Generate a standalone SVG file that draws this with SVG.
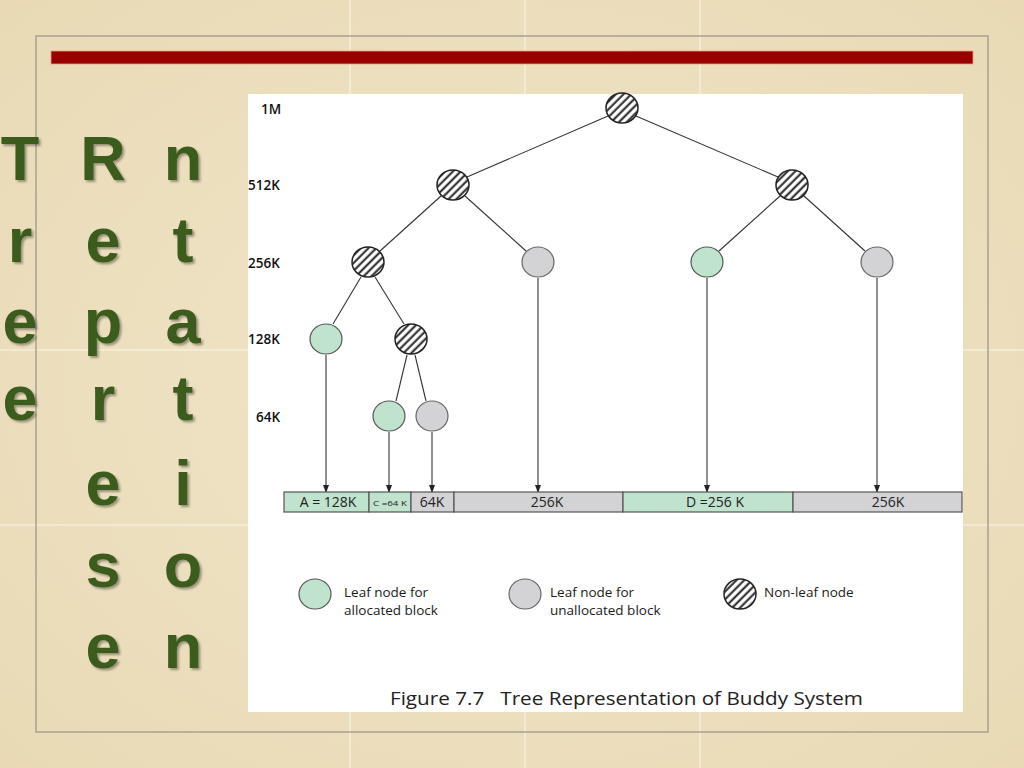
<svg xmlns="http://www.w3.org/2000/svg" width="1024" height="768" viewBox="0 0 1024 768">
<defs>
<pattern id="hatch" width="5.5" height="5.5" patternUnits="userSpaceOnUse" patternTransform="rotate(45)">
<rect width="5.5" height="5.5" fill="#ffffff"/>
<line x1="1.5" y1="0" x2="1.5" y2="5.5" stroke="#222" stroke-width="2"/>
</pattern>
<marker id="arr" markerWidth="8" markerHeight="8" refX="7" refY="4" orient="auto" markerUnits="userSpaceOnUse">
<path d="M0,1 L8,4 L0,7 Z" fill="#222"/>
</marker>
<filter id="sh" x="-20%" y="-20%" width="150%" height="150%">
<feDropShadow dx="2" dy="2" stdDeviation="1.2" flood-color="#000" flood-opacity="0.35"/>
</filter>
<radialGradient id="bg" cx="50%" cy="50%" r="70%">
<stop offset="0" stop-color="#f1e6ca"/>
<stop offset="1" stop-color="#e9dab5"/>
</radialGradient>
</defs>
<style>
.t{font-family:"Liberation Sans",Arial,sans-serif;font-weight:bold;font-size:63px;fill:#3a5c1a;text-anchor:middle}
.lab{font-family:"Open Sans","Liberation Sans",sans-serif;font-size:13.5px;fill:#1a1a1a}
.lv{font-family:"Open Sans","Liberation Sans",sans-serif;font-size:13.5px;fill:#111;font-weight:600}
.bt{font-family:"Open Sans","Liberation Sans",sans-serif;font-size:14px;fill:#222;text-anchor:middle}
.edge{stroke:#333;stroke-width:1.1;fill:none}
.hn{fill:url(#hatch);stroke:#222;stroke-width:1.5}
.gn{fill:#bfe3cc;stroke:#555;stroke-width:1.2}
.un{fill:#d3d3d6;stroke:#666;stroke-width:1.2}
.seg{stroke:#555;stroke-width:1.2}
</style>
<rect width="1024" height="768" fill="url(#bg)"/>
<g stroke="#f8f2e2" stroke-width="1.5" opacity="0.8">
<line x1="350" y1="0" x2="350" y2="768"/>
<line x1="525" y1="0" x2="525" y2="768"/>
<line x1="700" y1="0" x2="700" y2="768"/>
<line x1="0" y1="350" x2="1024" y2="350"/>
<line x1="0" y1="525" x2="1024" y2="525"/>
</g>
<rect x="36" y="36" width="952" height="696" fill="none" stroke="#a8a095" stroke-width="1.5"/>
<rect x="51" y="51" width="922" height="13" fill="#990000" stroke="#e8a080" stroke-width="0.8"/>
<g id="title" filter="url(#sh)">
<text class="t" x="20" y="180">T</text>
<text class="t" x="20" y="262">r</text>
<text class="t" x="20" y="343">e</text>
<text class="t" x="20" y="420">e</text>
<text class="t" x="103" y="180">R</text>
<text class="t" x="103" y="262">e</text>
<text class="t" x="103" y="343">p</text>
<text class="t" x="103" y="420">r</text>
<text class="t" x="103" y="505">e</text>
<text class="t" x="103" y="587">s</text>
<text class="t" x="103" y="668">e</text>
<text class="t" x="183" y="180">n</text>
<text class="t" x="183" y="262">t</text>
<text class="t" x="183" y="343">a</text>
<text class="t" x="183" y="420">t</text>
<text class="t" x="183" y="505">i</text>
<text class="t" x="183" y="587">o</text>
<text class="t" x="183" y="668">n</text>
</g>
<rect x="248" y="94" width="715" height="618" fill="#ffffff"/>
<g id="levels">
<text class="lv" x="261" y="114">1M</text>
<text class="lv" x="248" y="190">512K</text>
<text class="lv" x="248" y="268">256K</text>
<text class="lv" x="248" y="344">128K</text>
<text class="lv" x="256" y="422">64K</text>
</g>
<g id="connectors">
<line class="edge" x1="608" y1="116" x2="467" y2="177"/>
<line class="edge" x1="636" y1="116" x2="778" y2="177"/>
<line class="edge" x1="441" y1="196" x2="380" y2="251"/>
<line class="edge" x1="465" y1="196" x2="526" y2="251"/>
<line class="edge" x1="780" y1="196" x2="719" y2="251"/>
<line class="edge" x1="804" y1="196" x2="865" y2="251"/>
<line class="edge" x1="361" y1="277" x2="333" y2="324"/>
<line class="edge" x1="375" y1="277" x2="404" y2="324"/>
<line class="edge" x1="407" y1="355" x2="396" y2="401"/>
<line class="edge" x1="415" y1="355" x2="426" y2="401"/>
<line class="edge" x1="326" y1="355" x2="326" y2="492" marker-end="url(#arr)"/>
<line class="edge" x1="389" y1="432" x2="389" y2="492" marker-end="url(#arr)"/>
<line class="edge" x1="432" y1="432" x2="432" y2="492" marker-end="url(#arr)"/>
<line class="edge" x1="538" y1="278" x2="538" y2="492" marker-end="url(#arr)"/>
<line class="edge" x1="707" y1="278" x2="707" y2="492" marker-end="url(#arr)"/>
<line class="edge" x1="877" y1="278" x2="877" y2="492" marker-end="url(#arr)"/>
</g>
<g id="n-root"><ellipse class="hn" cx="622" cy="108" rx="16" ry="15"/></g>
<g id="n-512a"><ellipse class="hn" cx="453" cy="185" rx="16" ry="15"/></g>
<g id="n-512b"><ellipse class="hn" cx="792" cy="185" rx="16" ry="15"/></g>
<g id="n-256a"><ellipse class="hn" cx="368" cy="262" rx="16" ry="15"/></g>
<g id="n-256b"><ellipse class="un" cx="538" cy="262" rx="16" ry="15"/></g>
<g id="n-256c"><ellipse class="gn" cx="707" cy="262" rx="16" ry="15"/></g>
<g id="n-256d"><ellipse class="un" cx="877" cy="262" rx="16" ry="15"/></g>
<g id="n-128a"><ellipse class="gn" cx="326" cy="339" rx="16" ry="15"/></g>
<g id="n-128b"><ellipse class="hn" cx="411" cy="339" rx="16" ry="15"/></g>
<g id="n-64a"><ellipse class="gn" cx="389" cy="416" rx="16" ry="15"/></g>
<g id="n-64b"><ellipse class="un" cx="432" cy="416" rx="16" ry="15"/></g>
<g id="bar">
<rect class="seg" x="284" y="492" width="85" height="20" fill="#bfe3cc"/>
<rect class="seg" x="369" y="492" width="42" height="20" fill="#bfe3cc"/>
<rect class="seg" x="411" y="492" width="43" height="20" fill="#d3d3d6"/>
<rect class="seg" x="454" y="492" width="169" height="20" fill="#d3d3d6"/>
<rect class="seg" x="623" y="492" width="170" height="20" fill="#bfe3cc"/>
<rect class="seg" x="793" y="492" width="169" height="20" fill="#d3d3d6"/>
<text class="bt" x="328" y="507">A = 128K</text>
<text x="373" y="505.5" font-family="Open Sans, Liberation Sans, sans-serif" font-size="8" fill="#222" textLength="34" lengthAdjust="spacingAndGlyphs">C =64 K</text>
<text class="bt" x="432" y="507">64K</text>
<text class="bt" x="547" y="507">256K</text>
<text class="bt" x="715" y="507">D =256 K</text>
<text class="bt" x="888" y="507">256K</text>
</g>
<g id="legend">
<ellipse class="gn" cx="315" cy="594" rx="16" ry="15"/>
<text class="lab" x="344" y="597">Leaf node for</text>
<text class="lab" x="344" y="615">allocated block</text>
<ellipse class="un" cx="525" cy="594" rx="16" ry="15"/>
<text class="lab" x="550" y="597">Leaf node for</text>
<text class="lab" x="550" y="615">unallocated block</text>
<ellipse class="hn" cx="740" cy="594" rx="16" ry="15"/>
<text class="lab" x="764" y="597">Non-leaf node</text>
</g>
<text x="390" y="705" font-family="Open Sans, Liberation Sans, sans-serif" font-size="18.5" fill="#222" textLength="473" lengthAdjust="spacingAndGlyphs" xml:space="preserve">Figure 7.7   Tree Representation of Buddy System</text>
</svg>
